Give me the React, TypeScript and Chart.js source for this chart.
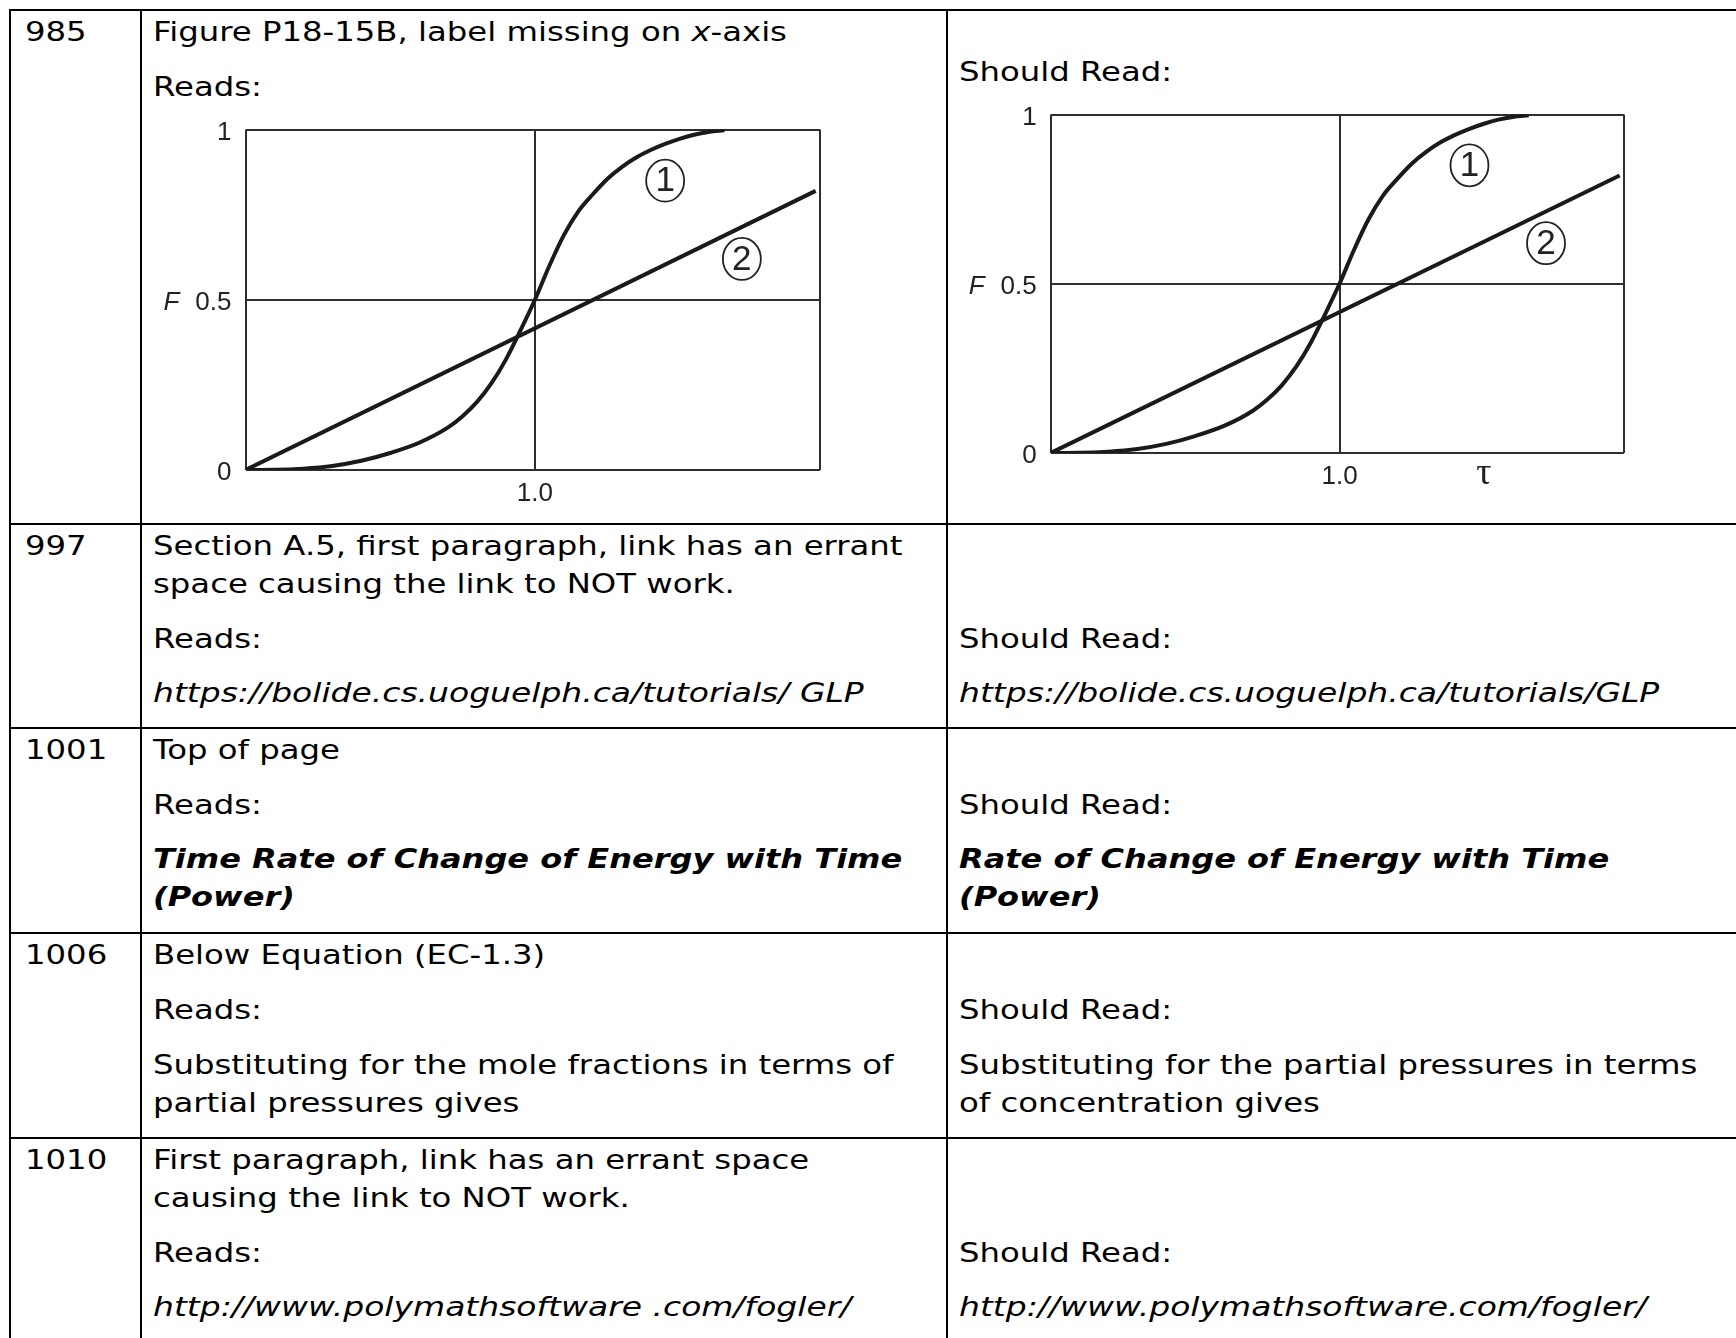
import React, { useEffect, useRef } from 'react';
import { Chart, registerables } from 'chart.js';

Chart.register(...registerables);

// ---------- chart data ----------
const curveTau = [0, 0.1, 0.2, 0.3, 0.4, 0.5, 0.6, 0.7, 0.75, 0.8, 0.85, 0.9, 0.95, 1.0, 1.05, 1.1, 1.15, 1.2, 1.25, 1.3, 1.35, 1.4, 1.45, 1.5, 1.55, 1.6, 1.655];
const curveF = [0, 0.0005, 0.004, 0.012, 0.027, 0.05, 0.08, 0.125, 0.158, 0.2, 0.255, 0.325, 0.41, 0.5, 0.6, 0.69, 0.76, 0.81, 0.855, 0.89, 0.918, 0.94, 0.958, 0.973, 0.985, 0.993, 0.998];
const lineTau = [0, 1.97];
const lineF = [0, 0.82];
const tagText = ['1', '2'];
const tagTau = [1.45, 1.715];
const tagF = [0.85, 0.62];
const yTickValues = [0, 0.5, 1];
const yTickLabels = ['0', '0.5', '1'];
const xMax = 1.985;
const readsXTicks = [0, 1, 1.985];
const readsXLabels = ['', '1.0', ''];
const shouldXTicks = [0, 1, 1.5, 1.985];
const shouldXLabels = ['', '1.0', 'τ', ''];
const xGridValues = [0, 1, 1.985];
const TAU_TICK = 1.5;

const INK = '#1a1a1a';
const GRID = '#2e2e2e';
const LABEL = '#222';
const Y_LABEL_OFFSET = 3;

const tagPlugin = {
  id: 'curveTags',
  afterDatasetsDraw(chart: any) {
    const { ctx, chartArea, scales } = chart;
    const x = scales.x;
    const y = scales.y;
    ctx.save();
    ctx.strokeStyle = LABEL;
    ctx.fillStyle = LABEL;
    ctx.lineWidth = 1.8;
    ctx.textAlign = 'center';
    ctx.textBaseline = 'middle';
    ctx.font = '35px "Liberation Sans"';
    tagText.forEach((t, i) => {
      const px = x.getPixelForValue(tagTau[i]);
      const py = y.getPixelForValue(tagF[i]);
      ctx.beginPath();
      ctx.ellipse(px, py, 19, 21, 0, 0, Math.PI * 2);
      ctx.stroke();
      ctx.fillText(t, px, py + 1);
    });
    ctx.font = 'italic 26px "Liberation Sans"';
    ctx.textAlign = 'right';
    ctx.fillText('F', chartArea.left - 66, y.getPixelForValue(0.5) + Y_LABEL_OFFSET);
    ctx.restore();
  },
};

function makeConfig(xTicks: number[], xLabels: string[], box: { yW: number; xH: number; top: number; right: number }) {
  return {
    type: 'line',
    data: {
      datasets: [
        {
          data: curveTau.map((t, i) => ({ x: t, y: curveF[i] })),
          borderColor: INK,
          borderWidth: 4,
          pointRadius: 0,
          cubicInterpolationMode: 'monotone',
          fill: false,
        },
        {
          data: lineTau.map((t, i) => ({ x: t, y: lineF[i] })),
          borderColor: INK,
          borderWidth: 4,
          pointRadius: 0,
          fill: false,
        },
      ],
    },
    options: {
      animation: false,
      responsive: false,
      devicePixelRatio: 1,
      layout: { padding: { left: 0, top: box.top, right: box.right, bottom: 0 } },
      plugins: { legend: { display: false }, tooltip: { enabled: false }, title: { display: false } },
      scales: {
        x: {
          type: 'linear',
          min: 0,
          max: xMax,
          afterBuildTicks: (axis: any) => {
            axis.ticks = xTicks.map((v) => ({ value: v }));
          },
          afterFit: (s: any) => {
            s.height = box.xH;
          },
          border: { display: false },
          grid: {
            drawTicks: false,
            lineWidth: 2,
            color: (c: any) => (c.tick && xGridValues.includes(c.tick.value) ? GRID : 'rgba(0,0,0,0)'),
          },
          ticks: {
            autoSkip: false,
            maxRotation: 0,
            padding: 17,
            color: LABEL,
            callback: (v: number) => {
              const k = xTicks.indexOf(v);
              return k >= 0 ? xLabels[k] : '';
            },
            font: (c: any) =>
              c.tick && c.tick.value === TAU_TICK
                ? { family: '"Liberation Serif"', size: 38, lineHeight: 0.23 }
                : { family: '"Liberation Sans"', size: 26, lineHeight: 0.52 },
          },
        },
        y: {
          type: 'linear',
          min: 0,
          max: 1,
          afterBuildTicks: (axis: any) => {
            axis.ticks = yTickValues.map((v) => ({ value: v }));
          },
          afterFit: (s: any) => {
            s.width = box.yW;
          },
          border: { display: false },
          grid: { drawTicks: false, lineWidth: 2, color: GRID },
          ticks: {
            autoSkip: false,
            padding: 14,
            labelOffset: Y_LABEL_OFFSET,
            color: LABEL,
            font: { family: '"Liberation Sans"', size: 26 },
            callback: (v: number) => {
              const k = yTickValues.indexOf(v);
              return k >= 0 ? yTickLabels[k] : '';
            },
          },
        },
      },
    },
    plugins: [tagPlugin],
  };
}

function ChartCanvas(props: { left: number; top: number; width: number; height: number; make: () => any }) {
  const ref = useRef<HTMLCanvasElement>(null);
  useEffect(() => {
    const chart = new Chart(ref.current as HTMLCanvasElement, props.make());
    return () => chart.destroy();
  }, []);
  return (
    <canvas
      ref={ref}
      width={props.width}
      height={props.height}
      style={{ position: 'absolute', left: props.left, top: props.top, width: props.width, height: props.height }}
    />
  );
}

// ---------- table text ----------
const TEXT_SCALE = 1.243;
const ITALIC_SCALE = 1.268;
const BOLD_SCALE = 1.232;
const BASE_OFFSET = 28;

type Line = { x: number; b: number; t: React.ReactNode; s?: 'i' | 'bi' };

const NUM_X = 24.5;
const LEFT_X = 153;
const RIGHT_X = 958.5;

const lines: Line[] = [
  { x: NUM_X, b: 41, t: '985' },
  { x: NUM_X, b: 555, t: '997' },
  { x: NUM_X, b: 759, t: '1001' },
  { x: NUM_X, b: 964, t: '1006' },
  { x: NUM_X, b: 1169, t: '1010' },

  { x: LEFT_X, b: 41, t: (<>Figure P18-15B, label missing on <i>x</i>-axis</>) },
  { x: LEFT_X, b: 96, t: 'Reads:' },
  { x: LEFT_X, b: 555, t: 'Section A.5, first paragraph, link has an errant' },
  { x: LEFT_X, b: 593, t: 'space causing the link to NOT work.' },
  { x: LEFT_X, b: 648, t: 'Reads:' },
  { x: LEFT_X, b: 702, t: 'https://bolide.cs.uoguelph.ca/tutorials/ GLP', s: 'i' },
  { x: LEFT_X, b: 759, t: 'Top of page' },
  { x: LEFT_X, b: 814, t: 'Reads:' },
  { x: LEFT_X, b: 868, t: 'Time Rate of Change of Energy with Time', s: 'bi' },
  { x: LEFT_X, b: 906, t: '(Power)', s: 'bi' },
  { x: LEFT_X, b: 964, t: 'Below Equation (EC-1.3)' },
  { x: LEFT_X, b: 1019, t: 'Reads:' },
  { x: LEFT_X, b: 1074, t: 'Substituting for the mole fractions in terms of' },
  { x: LEFT_X, b: 1112, t: 'partial pressures gives' },
  { x: LEFT_X, b: 1169, t: 'First paragraph, link has an errant space' },
  { x: LEFT_X, b: 1207, t: 'causing the link to NOT work.' },
  { x: LEFT_X, b: 1262, t: 'Reads:' },
  { x: LEFT_X, b: 1316, t: 'http://www.polymathsoftware .com/fogler/', s: 'i' },

  { x: RIGHT_X, b: 81, t: 'Should Read:' },
  { x: RIGHT_X, b: 648, t: 'Should Read:' },
  { x: RIGHT_X, b: 702, t: 'https://bolide.cs.uoguelph.ca/tutorials/GLP', s: 'i' },
  { x: RIGHT_X, b: 814, t: 'Should Read:' },
  { x: RIGHT_X, b: 868, t: 'Rate of Change of Energy with Time', s: 'bi' },
  { x: RIGHT_X, b: 906, t: '(Power)', s: 'bi' },
  { x: RIGHT_X, b: 1019, t: 'Should Read:' },
  { x: RIGHT_X, b: 1074, t: 'Substituting for the partial pressures in terms' },
  { x: RIGHT_X, b: 1112, t: 'of concentration gives' },
  { x: RIGHT_X, b: 1262, t: 'Should Read:' },
  { x: RIGHT_X, b: 1316, t: 'http://www.polymathsoftware.com/fogler/', s: 'i' },
];

const hRules = [9, 523, 727, 932, 1137];
const vRules = [9, 140, 946];

export default function App() {
  return (
    <div
      style={{
        position: 'absolute',
        left: 0,
        top: 0,
        width: 1736,
        height: 1338,
        overflow: 'hidden',
        background: '#fff',
      }}
    >
      {hRules.map((y, i) => (
        <div key={'h' + i} style={{ position: 'absolute', left: 9, top: y, width: 1740, height: 2, background: '#000' }} />
      ))}
      {vRules.map((x, i) => (
        <div key={'v' + i} style={{ position: 'absolute', left: x, top: 9, width: 2, height: 1340, background: '#000' }} />
      ))}
      {lines.map((l, i) => (
        <div
          key={'t' + i}
          style={{
            position: 'absolute',
            left: l.x,
            top: l.b - BASE_OFFSET,
            fontFamily: '"DejaVu Sans"',
            fontSize: 26,
            lineHeight: '38px',
            color: '#000',
            whiteSpace: 'pre',
            fontStyle: l.s ? 'italic' : 'normal',
            fontWeight: l.s === 'bi' ? 'bold' : 'normal',
            transform: `scaleX(${l.s === 'i' ? ITALIC_SCALE : l.s === 'bi' ? BOLD_SCALE : TEXT_SCALE})`,
            transformOrigin: '0 0',
          }}
        >
          {l.t}
        </div>
      ))}
      <ChartCanvas
        left={150}
        top={100}
        width={700}
        height={430}
        make={() => makeConfig(readsXTicks, readsXLabels, { yW: 95.5, xH: 60, top: 27.5, right: 30 })}
      />
      <ChartCanvas
        left={960}
        top={85}
        width={700}
        height={430}
        make={() => makeConfig(shouldXTicks, shouldXLabels, { yW: 90.7, xH: 62, top: 25.5, right: 36 })}
      />
    </div>
  );
}
